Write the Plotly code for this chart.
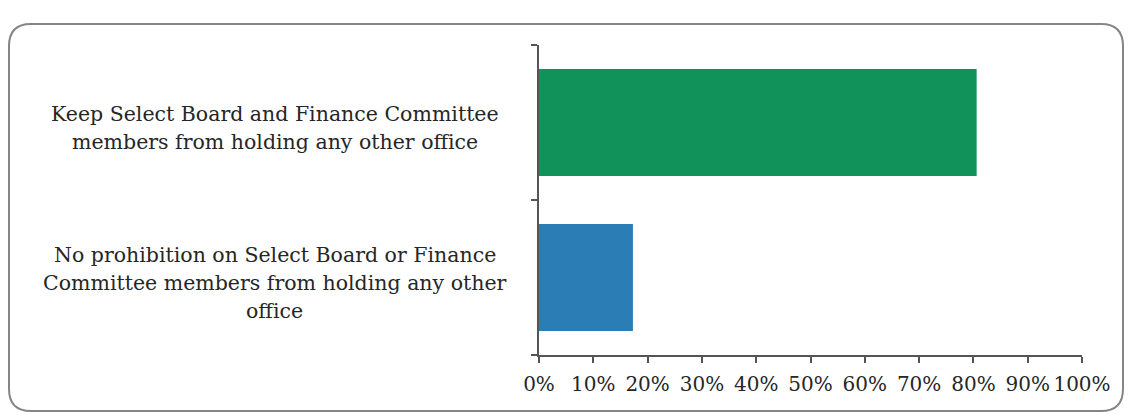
import plotly.graph_objects as go

# Survey responses (share of respondents, %)
categories = [
    "No prohibition on Select Board or Finance Committee members from holding any other office",
    "Keep Select Board and Finance Committee members from holding any other office",
]
label_lines = [
    ["No prohibition on Select Board or Finance", "Committee members from holding any other", "office"],
    ["Keep Select Board and Finance Committee", "members from holding any other office"],
]
values = [17.3, 80.6]
bar_colors = ["#2b7db5", "#11925a"]
x_ticks = [0, 10, 20, 30, 40, 50, 60, 70, 80, 90, 100]

W, H = 1128, 415
ML, MR, MT, MB = 539, 46, 45, 60
PW, PH = W - ML - MR, H - MT - MB

FONT = "DejaVu Serif"
TEXT = "#262626"
AXIS = "#555555"
LINE_GAP = 28  # pixel spacing between label lines

fig = go.Figure(
    go.Bar(
        x=values,
        y=categories,
        orientation="h",
        marker=dict(color=bar_colors, line=dict(width=0)),
        width=0.69,
        hoverinfo="x",
    )
)


def px_to_paper(px, py):
    return (px - ML) / PW, (H - MB - py) / PH


def rounded_frame(x0, y0, x1, y1, r):
    def p(x, y):
        a, b = px_to_paper(x, y)
        return f"{a:.5f},{b:.5f}"

    return " ".join([
        f"M {p(x0 + r, y0)}",
        f"L {p(x1 - r, y0)}",
        f"Q {p(x1, y0)} {p(x1, y0 + r)}",
        f"L {p(x1, y1 - r)}",
        f"Q {p(x1, y1)} {p(x1 - r, y1)}",
        f"L {p(x0 + r, y1)}",
        f"Q {p(x0, y1)} {p(x0, y1 - r)}",
        f"L {p(x0, y0 + r)}",
        f"Q {p(x0, y0)} {p(x0 + r, y0)}",
        "Z",
    ])


fig.add_shape(
    type="path",
    xref="paper",
    yref="paper",
    path=rounded_frame(9, 24, 1123, 411, 22),
    line=dict(color="#858585", width=2),
    layer="below",
)

# Category labels, centred to the left of the axis, one annotation per line
for cat, lines in zip(categories, label_lines):
    n = len(lines)
    for i, line in enumerate(lines):
        offset = ((n - 1) / 2 - i) * LINE_GAP - 5
        fig.add_annotation(
            x=-0.487,
            xref="paper",
            y=cat,
            yref="y",
            yshift=offset,
            text=line,
            showarrow=False,
            xanchor="center",
            yanchor="middle",
            align="center",
            font=dict(family=FONT, size=20.5, color=TEXT),
        )

fig.update_layout(
    width=W,
    height=H,
    margin=dict(l=ML, r=MR, t=MT, b=MB),
    paper_bgcolor="white",
    plot_bgcolor="white",
    showlegend=False,
    font=dict(family=FONT, size=20, color=TEXT),
    xaxis=dict(
        range=[0, 100],
        tickvals=x_ticks,
        ticktext=[f"{v}%" for v in x_ticks],
        showgrid=False,
        zeroline=False,
        showline=True,
        linecolor=AXIS,
        linewidth=2,
        ticks="outside",
        ticklen=6,
        tickwidth=2,
        tickcolor=AXIS,
        ticklabelstandoff=4,
        tickfont=dict(family=FONT, size=20, color=TEXT),
        fixedrange=True,
    ),
    yaxis=dict(
        type="category",
        categoryorder="array",
        categoryarray=categories,
        range=[-0.5, 1.5],
        showticklabels=False,
        showgrid=False,
        zeroline=False,
        showline=True,
        linecolor=AXIS,
        linewidth=2,
        ticks="outside",
        tickson="boundaries",
        ticklen=6,
        tickwidth=2,
        tickcolor=AXIS,
        fixedrange=True,
    ),
)

fig.write_html("out.html")
